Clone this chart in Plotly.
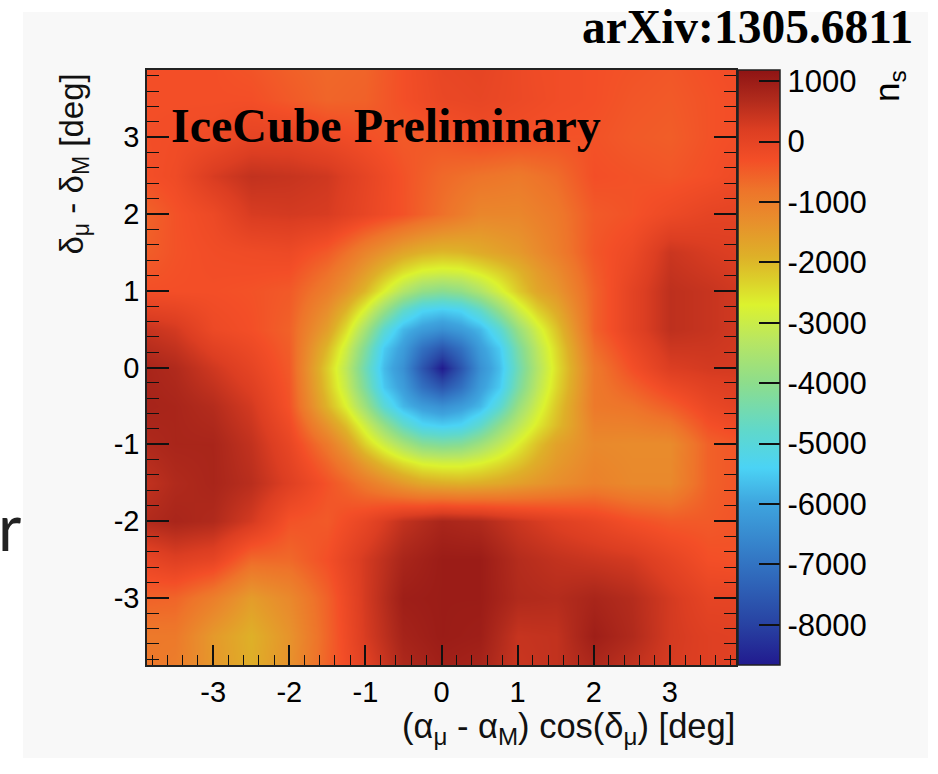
import plotly.graph_objects as go

# Grid nodes (deg); the central deficit is sampled on a finer 0.25 deg step
x_deg = [-4.0, -3.5, -3.0, -2.5, -2.0, -1.5, -1.25, -1.0, -0.75, -0.5, -0.25, 0.0,
         0.25, 0.5, 0.75, 1.0, 1.25, 1.5, 2.0, 2.5, 3.0, 3.5, 4.0]
y_deg_top_down = [4.0, 3.5, 3.0, 2.5, 2.0, 1.5, 1.25, 1.0, 0.75, 0.5, 0.25, 0.0,
                  -0.25, -0.5, -0.75, -1.0, -1.25, -1.5, -2.0, -2.5, -3.0, -3.5, -4.0]

# Fitted n_s at each node, one row per y node (top row y = +4 deg)
ns_rows = [
    [-300, -300, -300, -400, -550, -650, -625, -600, -450, -300, -175, -50, -25, 0, -75, -150, -225, -250, -300, -350, -400, -300, -200],
    [-300, -300, -300, -300, -450, -600, -575, -550, -425, -300, -200, -100, -75, -50, -100, -150, -200, -250, -300, -400, -450, -350, -250],
    [-300, -250, -200, 0, 0, -150, -225, -300, -375, -450, -425, -400, -325, -250, -275, -300, -325, -350, -350, -450, -500, -350, -250],
    [-350, -200, 250, 500, 450, 350, 175, 0, -175, -350, -500, -650, -725, -800, -850, -900, -800, -700, -300, -350, -400, -300, -150],
    [-650, -350, -150, 250, 300, 250, 100, -50, -200, -350, -550, -750, -950, -1150, -1150, -1150, -1025, -900, -450, -350, -150, 0, 50],
    [-550, -350, -250, -200, -150, -450, -750, -1100, -1400, -1700, -1900, -2000, -1950, -1800, -1650, -1500, -1250, -1000, -400, -150, 400, 250, 150],
    [-425, -325, -275, -275, -300, -750, -1100, -1550, -2050, -2500, -2800, -2900, -2850, -2600, -2300, -1950, -1550, -1250, -475, -50, 475, 350, 225],
    [-300, -300, -300, -350, -450, -990, -1410, -1980, -2700, -3390, -3880, -4060, -3900, -3440, -2850, -2230, -1730, -1450, -550, 50, 550, 450, 300],
    [100, 0, -225, -325, -500, -1300, -1950, -2800, -3810, -4760, -5350, -5500, -5360, -4780, -3920, -3000, -2300, -1800, -550, 50, 550, 450, 300],
    [500, 300, -150, -300, -550, -1590, -2460, -3590, -4860, -5750, -6150, -6400, -6150, -5750, -4930, -3800, -2900, -2150, -550, 50, 550, 450, 300],
    [675, 500, 100, -150, -500, -1990, -2950, -4200, -5510, -6150, -7050, -7600, -7050, -6150, -5530, -4300, -3250, -2400, -725, -125, 375, 375, 300],
    [850, 700, 350, 0, -450, -2260, -3230, -4510, -5720, -6400, -7600, -8650, -7600, -6400, -5700, -4500, -3400, -2500, -900, -300, 200, 300, 300],
    [850, 750, 500, 150, -400, -2160, -3070, -4280, -5550, -6150, -7050, -7600, -7050, -6150, -5530, -4300, -3250, -2400, -900, -550, -150, 100, 200],
    [850, 800, 650, 300, -350, -1940, -2710, -3740, -4930, -5750, -6150, -6400, -6150, -5750, -4930, -3800, -2950, -2200, -900, -800, -500, -100, 100],
    [775, 800, 725, 400, -200, -1400, -2070, -2950, -3870, -4730, -5320, -5470, -5360, -4810, -4000, -3250, -2600, -2050, -1050, -1025, -875, -325, -125],
    [700, 800, 800, 500, -50, -900, -1500, -2300, -2950, -3550, -4050, -4200, -4100, -3700, -3200, -2650, -2100, -1650, -1200, -1250, -1250, -550, -350],
    [575, 750, 800, 550, 50, -600, -1000, -1550, -2050, -2450, -2750, -2850, -2850, -2700, -2450, -2150, -1800, -1500, -1125, -1225, -1225, -550, -350],
    [450, 700, 800, 600, 150, -350, -600, -900, -1200, -1500, -1750, -1850, -1900, -1850, -1750, -1600, -1450, -1300, -1050, -1200, -1200, -550, -350],
    [650, 800, 700, 300, -350, -450, -250, -50, 225, 500, 650, 800, 750, 700, 550, 400, 275, 150, -50, -300, -450, -450, -350],
    [-100, 150, 0, -650, -650, -300, 0, 300, 550, 800, 900, 1000, 1000, 1000, 825, 650, 575, 500, 400, 300, 0, -300, -350],
    [-550, -600, -1000, -1550, -1200, -550, -125, 300, 625, 950, 975, 1000, 1000, 1000, 850, 700, 675, 650, 800, 650, 300, 0, 0],
    [-900, -900, -1500, -1900, -1400, -600, -175, 250, 550, 850, 925, 1000, 975, 950, 700, 450, 475, 500, 950, 700, 300, 150, 100],
    [-800, -1000, -1450, -1850, -1350, -550, -250, 50, 375, 700, 800, 900, 850, 800, 600, 400, 450, 500, 700, 450, 250, 150, 100],
]

# Colour bar range and labelled values
ns_min, ns_max = -8665, 1185
cbar_ticks = [1000, 0, -1000, -2000, -3000, -4000, -5000, -6000, -7000, -8000]
axis_ticks = [-3, -2, -1, 0, 1, 2, 3]

# Palette anchors: (n_s value, colour)
palette = [
    (-8665, "#211a8e"), (-8000, "#2842a2"), (-7000, "#3273c2"), (-6000, "#3ea4de"),
    (-5400, "#4bd3f5"), (-4800, "#5fd8cc"), (-4000, "#8ddd8c"), (-3300, "#b8e662"),
    (-2700, "#dcf22e"), (-2300, "#dcd02a"), (-1900, "#deb028"), (-1300, "#e88e2c"),
    (-800, "#ee742a"), (-300, "#f34e27"), (200, "#dc3e22"), (700, "#b02a1c"),
    (1185, "#8e1414"),
]
colorscale = [[(v - ns_min) / (ns_max - ns_min), c] for v, c in palette]

# Plot box in pixels
W, H = 938, 774
L, R, T, B = 147, 736, 70, 665
pw, ph = R - L, B - T
x_range = [-3.87, 3.87]
y_range = [-3.875, 3.875]


def px(xp):
    return (xp - L) / pw


def py(yp):
    return (B - yp) / ph


def hyphen_labels(vals):
    return [str(v) for v in vals]


y_up = y_deg_top_down[::-1]
z_up = ns_rows[::-1]

fig = go.Figure(
    go.Heatmap(
        x=x_deg, y=y_up, z=z_up,
        zsmooth="best", zmin=ns_min, zmax=ns_max,
        colorscale=colorscale, hoverinfo="skip",
        colorbar=dict(
            x=px(738), xanchor="left", xref="paper",
            y=0.5, yanchor="middle", len=1.0, lenmode="fraction",
            thickness=42, thicknessmode="pixels", xpad=0, ypad=0,
            outlinewidth=1.5, outlinecolor="#222222",
            tickmode="array", tickvals=cbar_ticks,
            ticktext=hyphen_labels(cbar_ticks),
            ticks="inside", ticklen=21, tickwidth=1.5, tickcolor="#111111",
            tickfont=dict(family="Liberation Sans, Arial, sans-serif", size=31, color="#000000"),
        ),
    )
)

tick_font = dict(family="Liberation Sans, Arial, sans-serif", size=29, color="#000000")
tick_style = dict(ticks="inside", tickwidth=1.5, tickcolor="#111111",
                  showgrid=False, zeroline=False)

fig.update_layout(
    xaxis=dict(
        range=x_range, tickmode="array", tickvals=axis_ticks, ticktext=hyphen_labels(axis_ticks),
        ticklen=20,
        minor=dict(dtick=0.2, tick0=0, ticks="inside", ticklen=10, tickwidth=1.3, tickcolor="#111111"),
        showline=True, linecolor="#222222", linewidth=1.5, mirror=True,
        tickfont=tick_font, ticklabelstandoff=0, **tick_style,
    ),
    # shorter tick marks along the top edge
    xaxis2=dict(
        range=x_range, overlaying="x", side="top", anchor="y", matches="x",
        tickmode="array", tickvals=axis_ticks, showticklabels=False, ticklen=15,
        minor=dict(dtick=0.2, tick0=0, ticks="inside", ticklen=7, tickwidth=1.3, tickcolor="#111111"),
        showline=False, **tick_style,
    ),
    yaxis=dict(
        range=y_range, tickmode="array", tickvals=axis_ticks, ticktext=hyphen_labels(axis_ticks),
        ticklen=22,
        minor=dict(dtick=0.2, tick0=0, ticks="inside", ticklen=12, tickwidth=1.3, tickcolor="#111111"),
        showline=True, linecolor="#222222", linewidth=1.5, mirror="ticks",
        tickfont=tick_font, **tick_style,
    ),
)

label_font = dict(family="Liberation Sans, Arial, sans-serif", size=33, color="#111111")
serif_bold = dict(family="Liberation Serif, Times New Roman, serif", color="#000000")

annotations = [
    dict(text="<b>arXiv:1305.6811</b>", x=px(915), y=py(27), xanchor="right", yanchor="middle",
         font=dict(size=47.5, **serif_bold)),
    dict(text="<b>IceCube Preliminary</b>", x=px(169), y=py(125), xanchor="left", yanchor="middle",
         font=dict(size=48, **serif_bold)),
    dict(text="(α<sub>μ</sub> - α<sub>M</sub>) cos(δ<sub>μ</sub>) [deg]", x=px(737), y=py(728),
         xanchor="right", yanchor="middle", font=dict(label_font, size=34.5)),
    dict(text="δ<sub>μ</sub> - δ<sub>M</sub> [deg]", x=px(73), y=py(72), textangle=-90,
         xanchor="center", yanchor="top", font=label_font),
    dict(text="n<sub>s</sub>", x=px(889), y=py(68), textangle=-90,
         xanchor="center", yanchor="top",
         font=dict(family="Liberation Sans, Arial, sans-serif", size=35, color="#000000")),
    dict(text="r", x=px(-4), y=py(526), xanchor="left", yanchor="middle",
         font=dict(family="Lato, Liberation Sans, sans-serif", size=64, color="#222222")),
]
for a in annotations:
    a.update(xref="paper", yref="paper", showarrow=False)

fig.update_layout(
    width=W, height=H,
    margin=dict(l=L, r=W - R, t=T, b=H - B),
    paper_bgcolor="#ffffff", plot_bgcolor="#f8f8f8",
    annotations=annotations,
    shapes=[dict(type="rect", xref="paper", yref="paper", layer="below",
                 x0=px(23), x1=px(928), y0=py(758), y1=py(12),
                 fillcolor="#f8f8f8", line=dict(width=0))],
)

fig.write_html("out.html")
